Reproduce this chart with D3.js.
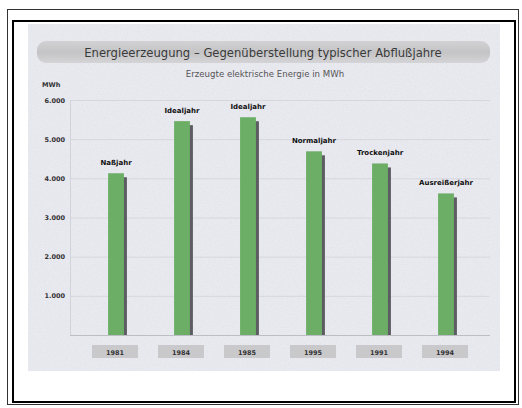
<!DOCTYPE html>
<html>
<head>
<meta charset="utf-8">
<script src="https://cdn.jsdelivr.net/npm/d3@7"></script>
<style>
  body { margin: 0; background: #fff; }
  svg { display: block; font-family: "DejaVu Sans", sans-serif; }
</style>
</head>
<body>
<div id="chart"></div>
<script>
// data
var years      = [ "1981", "1984", "1985", "1995", "1991", "1994" ];
var yearTypes  = [ "Naßjahr", "Idealjahr", "Idealjahr", "Normaljahr", "Trockenjahr", "Ausreißerjahr" ];
var energyMWh  = [ 4130, 5460, 5560, 4690, 4380, 3615 ];
var yTicks     = [ 1000, 2000, 3000, 4000, 5000, 6000 ];

var chartTitle = "Energieerzeugung – Gegenüberstellung typischer Abflußjahre";
var subTitle   = "Erzeugte elektrische Energie in MWh";
var unitLabel  = "MWh";

// --------------------------------------------------------

var width  = 522;
var height = 408;

var svg = d3.select("#chart")
	.append("svg")
	.attr("width", width)
	.attr("height", height);

var defs = svg.append("defs");

// speckled paper look of the panel
var noise = defs.append("filter").attr("id", "grain")
	.attr("x", 0).attr("y", 0).attr("width", "100%").attr("height", "100%");
noise.append("feTurbulence")
	.attr("type", "fractalNoise")
	.attr("baseFrequency", 0.7)
	.attr("numOctaves", 2)
	.attr("seed", 3)
	.attr("result", "n");
noise.append("feColorMatrix")
	.attr("in", "n")
	.attr("type", "matrix")
	.attr("values", "0 0 0 0 0.55  0 0 0 0 0.55  0 0 0 0 0.62  0 0 0 -1 0.6")
	.attr("result", "a");
noise.append("feComposite").attr("in", "a").attr("in2", "SourceGraphic").attr("operator", "in");

var banner = defs.append("linearGradient").attr("id", "banner")
	.attr("x1", 0).attr("y1", 0).attr("x2", 0).attr("y2", 1);
banner.append("stop").attr("offset", "0%").attr("stop-color", "#d2d2d4");
banner.append("stop").attr("offset", "50%").attr("stop-color", "#c4c4c6");
banner.append("stop").attr("offset", "100%").attr("stop-color", "#d4d4d6");

// frames
svg.append("rect")
	.attr("x", 7.5).attr("y", 9.5).attr("width", 511).attr("height", 395)
	.attr("fill", "none").attr("stroke", "#333").attr("stroke-width", 1);
svg.append("rect")
	.attr("x", 13).attr("y", 21).attr("width", 502).attr("height", 381)
	.attr("fill", "#fff").attr("stroke", "#000").attr("stroke-width", 2);

// panel
svg.append("rect")
	.attr("x", 28).attr("y", 24).attr("width", 472).attr("height", 347)
	.attr("fill", "#e9e9f0");
svg.append("rect")
	.attr("x", 28).attr("y", 24).attr("width", 472).attr("height", 347)
	.attr("fill", "#e9e9f0")
	.attr("filter", "url(#grain)")
	.attr("opacity", 0.35);

// title banner
svg.append("rect")
	.attr("x", 37).attr("y", 41).attr("width", 453).attr("height", 22)
	.attr("rx", 9)
	.attr("fill", "url(#banner)");

svg.append("text")
	.attr("x", 263).attr("y", 56.5)
	.attr("text-anchor", "middle")
	.attr("font-size", 11.6)
	.attr("fill", "#3a3a3a")
	.text(chartTitle);

svg.append("text")
	.attr("x", 265).attr("y", 77)
	.attr("text-anchor", "middle")
	.attr("font-size", 8.6)
	.attr("fill", "#555")
	.text(subTitle);

// --------------------------------------------------------
// scales

var x_scale = d3.scaleBand()
	.domain(years)
	.range([83, 479])
	.paddingInner(0.76)
	.paddingOuter(0.38);

var y_scale = d3.scaleLinear()
	.domain([0, 6000])
	.range([335, 100]);

var plotLeft  = 70;
var plotRight = 490;

// grid
svg.append("g")
	.selectAll("line")
	.data(yTicks)
	.enter()
	.append("line")
	.attr("x1", plotLeft).attr("x2", plotRight)
	.attr("y1", (d) => y_scale(d) + 0.5)
	.attr("y2", (d) => y_scale(d) + 0.5)
	.attr("stroke", "#d6d6de")
	.attr("stroke-width", 1);

var yAxis = d3.axisLeft(y_scale)
	.tickValues(yTicks)
	.tickSize(0)
	.tickPadding(5)
	.tickFormat((d) => d3.format(",")(d).replace(",", "."));

var yg = svg.append("g")
	.attr("transform", "translate(" + plotLeft + ",0)")
	.call(yAxis);
yg.select(".domain").attr("stroke", "#d2d2da");
yg.selectAll("text")
	.attr("font-size", 6.5)
	.attr("font-weight", "bold")
	.attr("fill", "#333")
	.attr("font-family", "DejaVu Sans, sans-serif");

svg.append("line")
	.attr("x1", plotLeft).attr("x2", plotRight)
	.attr("y1", y_scale(0) + 0.5).attr("y2", y_scale(0) + 0.5)
	.attr("stroke", "#bdbdc5");

svg.append("text")
	.attr("x", 42).attr("y", 87)
	.attr("font-size", 6.5)
	.attr("font-weight", "bold")
	.attr("fill", "#333")
	.text(unitLabel);

// --------------------------------------------------------
// bars

var rows = years.map((y, i) => ({ year: y, type: yearTypes[i], value: energyMWh[i] }));

// shadow behind the bars
svg.append("g")
	.selectAll("rect")
	.data(rows)
	.enter()
	.append("rect")
	.attr("x", (d) => x_scale(d.year) + 3)
	.attr("y", (d) => y_scale(d.value) + 4)
	.attr("width", x_scale.bandwidth())
	.attr("height", (d) => y_scale(0) - y_scale(d.value) - 4)
	.attr("fill", "#5c5c62");

svg.append("g")
	.selectAll("rect")
	.data(rows)
	.enter()
	.append("rect")
	.attr("x", (d) => x_scale(d.year))
	.attr("y", (d) => y_scale(d.value))
	.attr("width", x_scale.bandwidth())
	.attr("height", (d) => y_scale(0) - y_scale(d.value))
	.attr("fill", "#6cae66");

// year type labels
svg.append("g")
	.selectAll("text")
	.data(rows)
	.enter()
	.append("text")
	.attr("x", (d) => x_scale(d.year) + x_scale.bandwidth() / 2)
	.attr("y", (d) => y_scale(d.value) - 8)
	.attr("text-anchor", "middle")
	.attr("font-size", 7)
	.attr("font-weight", "bold")
	.attr("fill", "#111")
	.text((d) => d.type);

// year boxes
var boxes = svg.append("g")
	.selectAll("g")
	.data(rows)
	.enter()
	.append("g")
	.attr("transform", (d) => "translate(" + (x_scale(d.year) + x_scale.bandwidth() / 2 - 1) + ",345)");

boxes.append("rect")
	.attr("x", -23).attr("y", 0)
	.attr("width", 46).attr("height", 13)
	.attr("fill", "#c9c9cc");

boxes.append("text")
	.attr("x", 0).attr("y", 9.5)
	.attr("text-anchor", "middle")
	.attr("font-size", 6.5)
	.attr("font-weight", "bold")
	.attr("fill", "#333")
	.text((d) => d.year);
</script>
</body>
</html>
